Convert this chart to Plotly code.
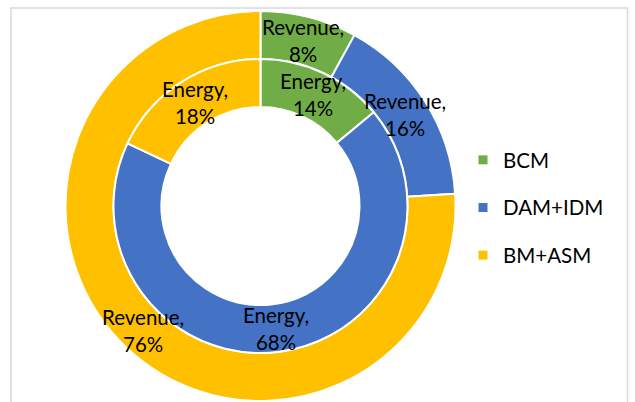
import math
import plotly.graph_objects as go

categories = ["BCM", "DAM+IDM", "BM+ASM"]
revenue_pct = [8, 16, 76]
energy_pct = [14, 68, 18]
colors = ["#70AD47", "#4472C4", "#FFC000"]

W, H = 635, 402
cx, cy = 260.5, 206.0          # pixel centre (from top)
r_out, r_mid, r_in = 195.0, 147.0, 99.0
FONT = "Lato"
FS = 20.5

def dom(r):
    x = [(cx - r) / W, (cx + r) / W]
    yb = H - cy
    y = [(yb - r) / H, (yb + r) / H]
    return dict(x=x, y=y)

fig = go.Figure()
fig.add_trace(go.Pie(
    labels=categories, values=revenue_pct, sort=False, direction="clockwise",
    rotation=0, hole=r_mid / r_out, domain=dom(r_out),
    marker=dict(colors=colors, line=dict(color="white", width=2)),
    textinfo="none", hoverinfo="label+percent", showlegend=False,
))
fig.add_trace(go.Pie(
    labels=categories, values=energy_pct, sort=False, direction="clockwise",
    rotation=0, hole=r_in / r_mid, domain=dom(r_mid),
    marker=dict(colors=colors, line=dict(color="white", width=2)),
    textinfo="none", hoverinfo="label+percent", showlegend=False,
))

# data labels at the centroid of each ring segment, computed from the values
def add_labels(vals, name, r):
    tot = sum(vals)
    cum = 0
    for v in vals:
        mid = (cum + v / 2) / tot * 2 * math.pi
        cum += v
        px = cx + r * math.sin(mid)
        py = cy - r * math.cos(mid)
        fig.add_annotation(
            x=px / W, y=(H - py) / H, xref="paper", yref="paper",
            text=f"{name},<br>{round(v / tot * 100)}%", showarrow=False,
            font=dict(family=FONT, size=FS, color="black"),
            xanchor="center", yanchor="middle", align="center",
        )

add_labels(revenue_pct, "Revenue", (r_out + r_mid) / 2)
add_labels(energy_pct, "Energy", (r_mid + r_in) / 2)

# legend via marker-only dummy traces
for c, col in zip(categories, colors):
    fig.add_trace(go.Scatter(
        x=[None], y=[None], mode="markers", name=c, legendgroup=c,
        marker=dict(symbol="square", size=9, color=col),
    ))

fig.update_xaxes(visible=False)
fig.update_yaxes(visible=False)

fig.add_shape(type="rect", xref="paper", yref="paper",
              x0=11 / W, x1=627.5 / W, y0=-0.05, y1=(H - 8) / H,
              line=dict(color="#D9D9D9", width=1.5), layer="below")

fig.update_layout(
    width=W, height=H,
    margin=dict(l=0, r=0, t=0, b=0),
    paper_bgcolor="white", plot_bgcolor="white",
    showlegend=True,
    legend=dict(x=463 / W, y=(H - 140) / H, xanchor="left", yanchor="top",
                font=dict(family=FONT, size=FS, color="black"),
                tracegroupgap=18, bgcolor="rgba(0,0,0,0)",
                itemclick=False, itemdoubleclick=False),
)

fig.write_html("out.html",
               config={"displayModeBar": False},
               post_script="document.body.style.margin='0';document.body.style.overflow='hidden';")
